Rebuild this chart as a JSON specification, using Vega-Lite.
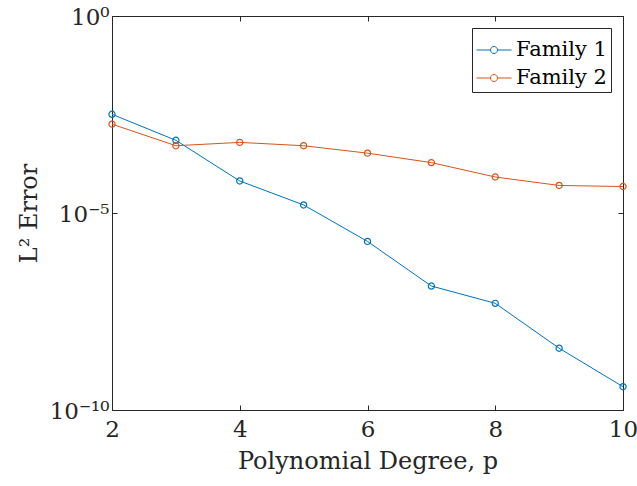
{
  "$schema": "https://vega.github.io/schema/vega-lite/v6.json",
  "width": 511,
  "height": 394,
  "autosize": {"type": "none"},
  "padding": {"left": 112, "top": 16, "right": 14, "bottom": 76},
  "background": "white",
  "config": {
    "font": "DejaVu Serif",
    "view": {"stroke": null},
    "axis": {"grid": false, "labelFlush": false, "domainColor": "#262626", "tickColor": "#262626", "labelColor": "#262626", "titleColor": "#262626", "labelFont": "DejaVu Serif", "titleFont": "DejaVu Serif", "labelFontSize": 23, "titleFontSize": 24, "titleFontWeight": "normal", "tickSize": -5, "domainWidth": 1, "tickWidth": 1}
  },
  "data": {"values": [
    {"p": 2, "err": 3.2e-3, "series": "Family 1"},
    {"p": 3, "err": 7.0e-4, "series": "Family 1"},
    {"p": 4, "err": 6.5e-5, "series": "Family 1"},
    {"p": 5, "err": 1.6e-5, "series": "Family 1"},
    {"p": 6, "err": 1.9e-6, "series": "Family 1"},
    {"p": 7, "err": 1.4e-7, "series": "Family 1"},
    {"p": 8, "err": 5.1e-8, "series": "Family 1"},
    {"p": 9, "err": 3.7e-9, "series": "Family 1"},
    {"p": 10, "err": 3.9e-10, "series": "Family 1"},
    {"p": 2, "err": 1.8e-3, "series": "Family 2"},
    {"p": 3, "err": 5.1e-4, "series": "Family 2"},
    {"p": 4, "err": 6.2e-4, "series": "Family 2"},
    {"p": 5, "err": 5.1e-4, "series": "Family 2"},
    {"p": 6, "err": 3.3e-4, "series": "Family 2"},
    {"p": 7, "err": 1.9e-4, "series": "Family 2"},
    {"p": 8, "err": 8.2e-5, "series": "Family 2"},
    {"p": 9, "err": 5.0e-5, "series": "Family 2"},
    {"p": 10, "err": 4.7e-5, "series": "Family 2"}
  ]},
  "layer": [
    {
      "mark": {"type": "line", "strokeWidth": 1, "point": {"filled": false, "size": 38, "strokeWidth": 1.2}},
      "encoding": {
        "x": {"field": "p", "type": "quantitative", "scale": {"domain": [2, 10], "nice": false, "zero": false},
              "axis": {"orient": "bottom", "values": [2, 4, 6, 8, 10], "labelFlush": false, "title": "Polynomial Degree, p", "labelFont": "DejaVu Serif", "titleFont": "DejaVu Serif", "labelFontSize": 23, "titleFontSize": 24, "labelPadding": 13, "titlePadding": 8}},
        "y": {"field": "err", "type": "quantitative", "scale": {"type": "log", "domain": [1e-10, 1], "nice": false},
              "axis": {"orient": "left", "values": [1e-10, 1e-5, 1], "labelFlush": false, "labelOffset": 1, "labelExpr": "datum.value >= 0.5 ? '10⁰' : (datum.value > 1e-7 ? '10⁻⁵' : '10⁻¹⁰')", "title": "L² Error", "labelFont": "DejaVu Serif", "titleFont": "DejaVu Serif", "labelFontSize": 23, "titleFontSize": 24, "labelPadding": 8, "titlePadding": 8}},
        "color": {"field": "series", "type": "nominal",
                  "scale": {"domain": ["Family 1", "Family 2"], "range": ["#0072BD", "#D95319"]},
                  "legend": {"title": null, "orient": "top-right", "offset": 12,
                             "labelFontSize": 21, "labelFont": "DejaVu Serif", "labelColor": "#000000",
                             "symbolType": "M-1,0L-0.2,0M0.2,0L1,0M0.2,0A0.2,0.2 0 1 1 -0.2,0A0.2,0.2 0 1 1 0.2,0",
                             "symbolSize": 1225, "symbolStrokeWidth": 1, "symbolFillColor": "transparent",
                             "strokeColor": "#262626", "fillColor": "white", "padding": 4, "rowPadding": 0,
                             "labelOffset": 4}}
      }
    },
    {
      "mark": {"type": "line", "opacity": 0},
      "encoding": {
        "x": {"field": "p", "type": "quantitative", "axis": {"orient": "top", "values": [2, 4, 6, 8, 10], "labels": false, "title": null}},
        "y": {"field": "err", "type": "quantitative", "axis": {"orient": "right", "values": [1e-10, 1e-5, 1], "labels": false, "title": null}},
        "detail": {"field": "series"}
      }
    }
  ],
  "resolve": {"axis": {"x": "independent", "y": "independent"}}
}
